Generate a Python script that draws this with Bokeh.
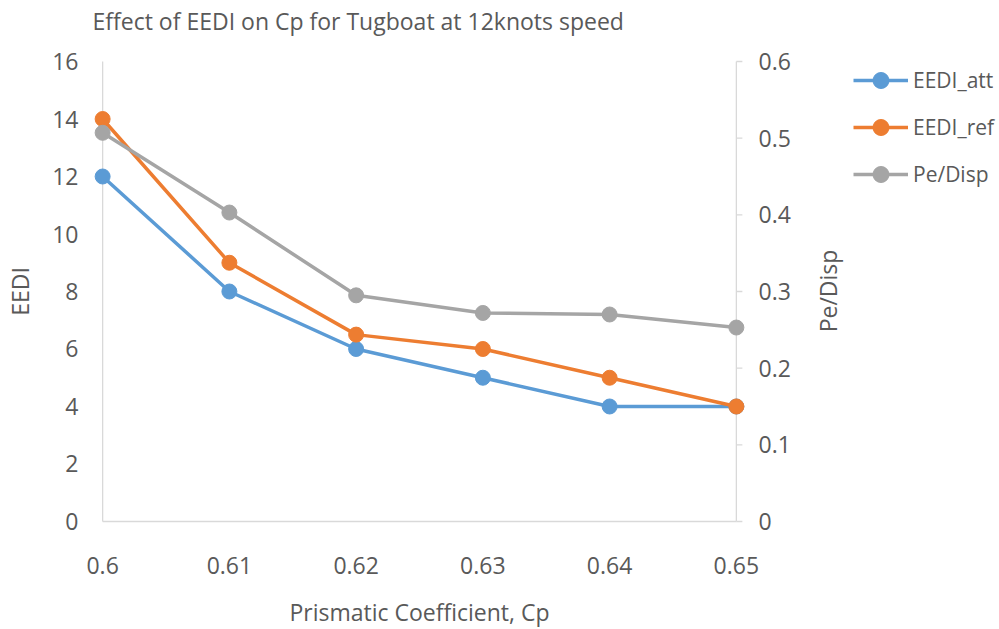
import math
from bokeh.plotting import figure
from bokeh.layouts import column, row
from bokeh.models import Range1d, LinearAxis, FixedTicker, Legend
from bokeh.core.properties import value
from bokeh.embed import file_html
from bokeh.resources import INLINE

# Data: prismatic coefficient vs EEDI and Pe/Disp
cp = [0.60, 0.61, 0.62, 0.63, 0.64, 0.65]
eedi_att = [12, 8, 6, 5, 4, 4]
eedi_ref = [14, 9, 6.5, 6, 5, 4]
pe_disp = [0.507, 0.403, 0.295, 0.272, 0.270, 0.253]

x_ticks = [0.60, 0.61, 0.62, 0.63, 0.64, 0.65]
x_labels = ["0.6", "0.61", "0.62", "0.63", "0.64", "0.65"]
y_ticks = [0, 2, 4, 6, 8, 10, 12, 14, 16]
y2_ticks = [0, 0.1, 0.2, 0.3, 0.4, 0.5, 0.6]
y2_labels = ["0", "0.1", "0.2", "0.3", "0.4", "0.5", "0.6"]

TITLE = "Effect of EEDI on Cp for Tugboat at 12knots speed"
Y2_TITLE = "Pe/Disp"

FONT = "Open Sans"
TEXT = "#595959"
GRID = "#d9d9d9"
FS = "23px"

x0, x1 = x_ticks[0], x_ticks[-1]
y0, y1 = y_ticks[0], y_ticks[-1]
r0, r1 = y2_ticks[0], y2_ticks[-1]

# small padding so edge markers are not clipped by the frame
xpad = 0.0008
ypad = 0.07
y2pad = ypad * (r1 - r0) / (y1 - y0)

W, TH = 999, 40        # page width, title strip height
LEFT, FW, RIGHT = 92, 654, 56
FH, TOP, BOTTOM = 464, 59, 106
LEG_W = W - LEFT - FW - RIGHT

# ---- title strip -------------------------------------------------------
pt = figure(width=W, height=TH, x_range=Range1d(0, W), y_range=Range1d(0, TH),
            output_backend="svg", toolbar_location=None,
            x_axis_location=None, y_axis_location=None,
            min_border=0, outline_line_color=None,
            background_fill_color="white", border_fill_color="white")
pt.grid.visible = False
pt.text(x=[LEFT], y=[TH - 20], text=[TITLE], text_font=value(FONT),
        text_font_size=FS, text_color=TEXT, text_baseline="middle",
        text_align="left")

# ---- main chart --------------------------------------------------------
p = figure(
    frame_width=FW, frame_height=FH,
    x_range=Range1d(x0 - xpad, x1 + xpad),
    y_range=Range1d(y0 - ypad, y1 + ypad),
    output_backend="svg", toolbar_location=None,
    min_border_left=LEFT, min_border_right=RIGHT,
    min_border_top=TOP - TH, min_border_bottom=BOTTOM,
    background_fill_color="white", border_fill_color="white",
    outline_line_color=None,
)
p.extra_y_ranges = {"pe": Range1d(r0 - y2pad, r1 + y2pad)}
p.grid.visible = False

def style_axis(ax):
    ax.axis_line_color = None
    ax.major_tick_line_color = None
    ax.minor_tick_line_color = None
    ax.major_tick_out = 0
    ax.major_tick_in = 0
    ax.major_label_text_font = FONT
    ax.major_label_text_font_size = FS
    ax.major_label_text_color = TEXT
    ax.axis_label_text_font = FONT
    ax.axis_label_text_font_size = FS
    ax.axis_label_text_font_style = "normal"
    ax.axis_label_text_color = TEXT

xa = p.xaxis[0]
style_axis(xa)
xa.ticker = FixedTicker(ticks=x_ticks)
xa.major_label_overrides = dict(zip(x_ticks, x_labels))
xa.axis_label = "Prismatic Coefficient, Cp"
xa.major_label_standoff = 33
xa.axis_label_standoff = 19

ya = p.yaxis[0]
style_axis(ya)
ya.ticker = FixedTicker(ticks=y_ticks)
ya.axis_label = "EEDI"
ya.major_label_standoff = 14
ya.axis_label_standoff = 13

ya2 = LinearAxis(y_range_name="pe")
style_axis(ya2)
ya2.ticker = FixedTicker(ticks=y2_ticks)
ya2.major_label_overrides = dict(zip(y2_ticks, y2_labels))
ya2.major_label_standoff = 12
p.add_layout(ya2, "right")

# axis lines drawn at the data limits
p.segment(x0=[x0], y0=[y0], x1=[x1], y1=[y0], line_color=GRID, line_width=1.3)
p.segment(x0=[x0], y0=[y0], x1=[x0], y1=[y1], line_color=GRID, line_width=1.3)
p.segment(x0=[x1], y0=[r0], x1=[x1], y1=[r1], line_color=GRID, line_width=1.3,
          y_range_name="pe")
p.ray(x=[x1] * len(y2_ticks), y=y2_ticks, length=6, length_units="screen",
      angle=0, line_color=GRID, line_width=1.3, y_range_name="pe")

series = [
    ("EEDI_att", eedi_att, "#5b9bd5", "default"),
    ("EEDI_ref", eedi_ref, "#ed7d31", "default"),
    ("Pe/Disp", pe_disp, "#a5a5a5", "pe"),
]
for name, vals, color, rng in series:
    p.line(cp, vals, line_color=color, line_width=3.5, y_range_name=rng)
    p.scatter(cp, vals, size=15, fill_color=color, line_color=color,
              y_range_name=rng)

# ---- side column: secondary axis title + legend ------------------------
# its frame lines up with the chart frame; units are pixels
pl = figure(width=LEG_W, height=629 - TH, x_range=Range1d(0, LEG_W),
            y_range=Range1d(0, FH),
            output_backend="svg", toolbar_location=None,
            x_axis_location=None, y_axis_location=None,
            min_border=0, outline_line_color=None,
            background_fill_color="white", border_fill_color="white")
pl.grid.visible = False
pl.text(x=[827 - LEFT - FW - RIGHT], y=[FH / 2], text=[Y2_TITLE],
        angle=math.pi / 2, text_font=value(FONT), text_font_size=FS,
        text_color=TEXT, text_align="center", text_baseline="middle")

items = []
for name, vals, color, rng in series:
    ln = pl.line(cp, vals, line_color=color, line_width=3.5, visible=False)
    sc = pl.scatter(cp, vals, size=15, fill_color=color, line_color=color,
                    visible=False)
    items.append((name, [ln, sc]))

legend = Legend(items=items, location=(853 - LEFT - FW - RIGHT, 328))
legend.border_line_color = None
legend.background_fill_alpha = 0
legend.inactive_fill_alpha = 0
legend.padding = 0
legend.margin = 0
legend.spacing = 7
legend.glyph_width = 55
legend.glyph_height = 40
legend.label_height = 40
legend.label_standoff = 5
legend.label_text_font = FONT
legend.label_text_font_size = "21px"
legend.label_text_color = TEXT
pl.add_layout(legend, "center")

layout = column(pt, row(p, pl, spacing=0), spacing=0)
open("out.html", "w").write(file_html(layout, INLINE))
